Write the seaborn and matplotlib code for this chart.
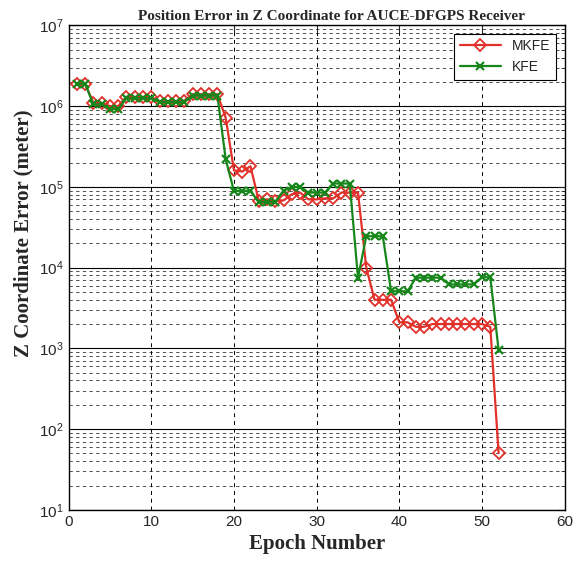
import numpy as np
import pandas as pd
import matplotlib
matplotlib.use("Agg")
import matplotlib.pyplot as plt
import seaborn as sns
from matplotlib.ticker import LogLocator

epochs = list(range(1, 53))
mkfe = [1.9e6, 1.9e6, 1.1e6, 1.1e6, 1.0e6, 1.0e6, 1.3e6, 1.3e6, 1.3e6, 1.3e6,
        1.15e6, 1.15e6, 1.15e6, 1.17e6, 1.4e6, 1.4e6, 1.4e6, 1.4e6, 7.2e5, 1.6e5,
        1.55e5, 1.8e5, 6.7e4, 7.0e4, 6.7e4, 6.8e4, 8.1e4, 8.5e4, 7.0e4, 7.0e4,
        7.2e4, 7.2e4, 8.5e4, 8.5e4, 8.5e4, 1.0e4, 4.0e3, 4.0e3, 4.0e3, 2.1e3,
        2.1e3, 1.85e3, 1.85e3, 2.0e3, 2.0e3, 2.0e3, 2.0e3, 2.0e3, 2.0e3, 2.0e3,
        1.85e3, 51]
kfe = [1.9e6, 1.9e6, 1.05e6, 1.05e6, 0.92e6, 0.92e6, 1.25e6, 1.25e6, 1.25e6, 1.25e6,
       1.12e6, 1.12e6, 1.12e6, 1.12e6, 1.35e6, 1.35e6, 1.35e6, 1.35e6, 2.2e5, 8.9e4,
       8.9e4, 8.9e4, 6.5e4, 6.5e4, 6.5e4, 9.0e4, 1.0e5, 1.0e5, 8.5e4, 8.5e4,
       8.5e4, 1.1e5, 1.1e5, 1.1e5, 7.5e3, 2.45e4, 2.45e4, 2.45e4, 5.1e3, 5.1e3,
       5.1e3, 7.5e3, 7.5e3, 7.5e3, 7.5e3, 6.2e3, 6.2e3, 6.2e3, 6.2e3, 7.6e3,
       7.6e3, 9.6e2]

df = pd.DataFrame({"epoch": epochs, "MKFE": mkfe, "KFE": kfe})

red = "#e2312a"
green = "#17861b"

sns.set_style("white")
plt.rcParams['font.family'] = ['Liberation Sans', 'DejaVu Sans']

fig = plt.figure(figsize=(5.81, 5.64), dpi=100)
ax = fig.add_axes([0.118, 0.096, 0.854, 0.859])

sns.lineplot(data=df, x="epoch", y="MKFE", ax=ax, color=red, lw=1.6,
             marker="D", markersize=6, markerfacecolor="none",
             markeredgecolor=red, markeredgewidth=1.3, label="MKFE")
sns.lineplot(data=df, x="epoch", y="KFE", ax=ax, color=green, lw=1.6,
             marker="x", markersize=6, markeredgecolor=green,
             markeredgewidth=1.6, label="KFE")

ax.set_yscale("log")
ax.set_xlim(0, 60)
ax.set_ylim(10, 1e7)
ax.set_xticks(range(0, 61, 10))
ax.yaxis.set_major_locator(LogLocator(base=10, numticks=10))
ax.yaxis.set_minor_locator(LogLocator(base=10, subs=np.arange(2, 10), numticks=10))

ax.grid(which="major", axis="x", color="k", linestyle=(0, (4, 4)), lw=0.7)
ax.grid(which="major", axis="y", color="k", linestyle="-", lw=0.8)
ax.grid(which="minor", axis="y", color="k", linestyle=(0, (4, 4)), lw=0.6, alpha=0.8)
ax.set_axisbelow(True)

ax.tick_params(which="both", direction="in", top=True, right=True, labelsize=11)
ax.tick_params(which="major", length=5)
ax.tick_params(which="minor", length=3)
for s in ax.spines.values():
    s.set_color("k")
    s.set_linewidth(1.0)

ax.set_title("Position Error in Z Coordinate for AUCE-DFGPS Receiver", x=0.53,
             fontsize=11, fontweight="bold", family="Liberation Serif", pad=4)
ax.set_xlabel("Epoch Number", fontsize=15, fontweight="bold", family="Liberation Serif", labelpad=4)
ax.set_ylabel("Z Coordinate Error (meter)", fontsize=15, fontweight="bold", family="Liberation Serif")
ax.yaxis.set_label_coords(-0.07, 0.57)

leg = ax.legend(loc="upper right", fontsize=10, frameon=True, fancybox=False,
                edgecolor="k", framealpha=1, handlelength=3.0, borderaxespad=0.6)
leg.get_frame().set_linewidth(0.8)

fig.savefig("out.png", dpi=100)
